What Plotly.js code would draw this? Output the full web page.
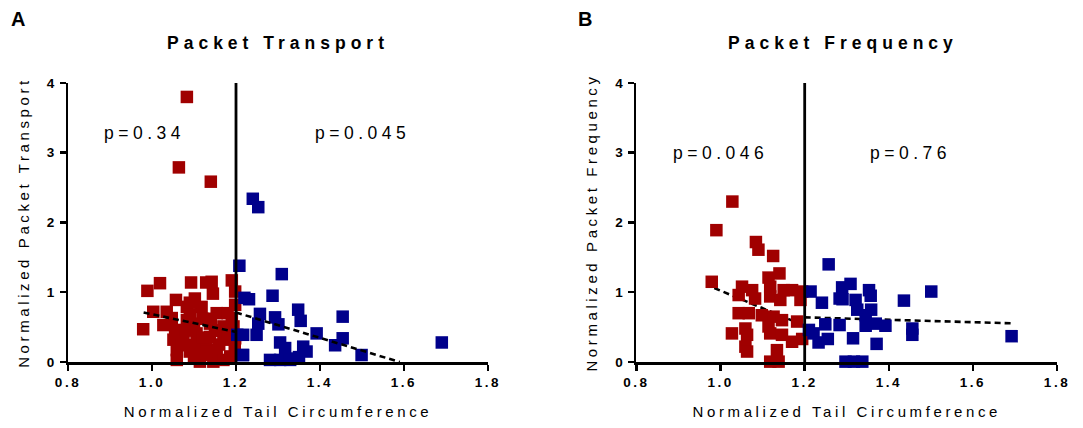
<!DOCTYPE html>
<html>
<head>
<meta charset="utf-8">
<script src="https://cdn.plot.ly/plotly-3.0.1.min.js"></script>
<style>
  body { margin: 0; background: #fff; }
  #chart { width: 1083px; height: 428px; }
  .xtick text, .x2tick text, .ytick text, .y2tick text { letter-spacing: 2.5px; }
  .xtitle, .x2title, .ytitle, .y2title { letter-spacing: 3.6px; }
</style>
</head>
<body>
<div id="chart"></div>
<script>
// ---------- data ----------
const threshold = 1.2;

// Panel A: Packet Transport
const transportLowX = [1.083, 1.064, 1.140, 0.989, 1.019, 0.979, 1.093, 1.129, 1.142, 1.190, 1.145, 1.102, 1.198, 1.198, 1.003, 1.035, 1.083, 1.118, 1.154, 1.190, 1.027, 1.055, 1.075, 1.106, 1.138, 1.170, 1.198, 1.051, 1.059, 1.090, 1.122, 1.154, 1.186, 1.059, 1.114, 1.146, 1.170, 1.083, 1.138, 1.170, 1.194, 1.047, 1.197, 1.083, 1.110, 1.090, 1.120, 1.160, 1.100, 1.130, 1.057, 1.180, 1.080, 1.100, 1.150, 1.120, 1.160, 1.070, 1.180, 1.090, 1.140, 1.130, 1.105];
const transportLowY = [3.80, 2.79, 2.585, 1.02, 1.13, 0.47, 1.14, 1.14, 1.15, 1.17, 0.98, 0.91, 1.01, 0.82, 0.72, 0.72, 0.79, 0.79, 0.70, 0.63, 0.53, 0.46, 0.36, 0.41, 0.36, 0.32, 0.34, 0.32, 0.17, 0.15, 0.10, 0.17, 0.08, 0.03, 0.005, 0.005, 0.03, 0.60, 0.55, 0.51, 0.51, 0.63, 0.17, 0.24, 0.24, 0.85, 0.62, 0.45, 0.05, 0.28, 0.89, 0.70, 0.45, 0.55, 0.45, 0.35, 0.25, 0.25, 0.40, 0.68, 0.62, 0.15, 0.12];
const transportHighX = [1.240, 1.253, 1.208, 1.309, 1.287, 1.231, 1.454, 1.257, 1.293, 1.348, 1.354, 1.253, 1.301, 1.249, 1.392, 1.454, 1.436, 1.499, 1.690, 1.216, 1.203, 1.305, 1.317, 1.360, 1.368, 1.281, 1.305, 1.329, 1.345, 1.350, 1.220, 1.217, 1.217];
const transportHighY = [2.34, 2.22, 1.38, 1.26, 0.95, 0.90, 0.65, 0.69, 0.64, 0.75, 0.59, 0.55, 0.54, 0.39, 0.41, 0.34, 0.24, 0.10, 0.28, 0.10, 0.39, 0.28, 0.20, 0.22, 0.15, 0.03, 0.03, 0.03, 0.05, 0.07, 0.92, 0.39, 0.10];

// Panel B: Packet Frequency
const freqLowX = [1.028, 0.990, 1.084, 1.090, 1.125, 1.140, 1.114, 0.979, 1.051, 1.075, 1.118, 1.150, 1.170, 1.194, 1.043, 1.082, 1.118, 1.142, 1.190, 1.043, 1.067, 1.098, 1.126, 1.146, 1.182, 1.027, 1.059, 1.063, 1.114, 1.118, 1.146, 1.170, 1.194, 1.059, 1.063, 1.134, 1.118, 1.138];
const freqLowY = [2.30, 1.89, 1.72, 1.61, 1.52, 1.27, 1.21, 1.15, 1.08, 1.03, 1.08, 1.03, 1.03, 1.01, 0.96, 0.91, 0.94, 0.89, 0.89, 0.70, 0.70, 0.67, 0.65, 0.60, 0.58, 0.41, 0.48, 0.39, 0.51, 0.41, 0.39, 0.29, 0.33, 0.22, 0.15, 0.17, 0.005, 0.005];
const freqHighX = [1.257, 1.309, 1.289, 1.353, 1.357, 1.501, 1.436, 1.214, 1.241, 1.283, 1.290, 1.321, 1.325, 1.358, 1.345, 1.249, 1.283, 1.345, 1.369, 1.392, 1.456, 1.456, 1.692, 1.210, 1.221, 1.233, 1.255, 1.315, 1.371, 1.297, 1.317, 1.337];
const freqHighY = [1.40, 1.12, 1.07, 1.03, 0.95, 1.01, 0.88, 1.01, 0.85, 0.91, 0.90, 0.89, 0.75, 0.75, 0.67, 0.54, 0.53, 0.52, 0.55, 0.52, 0.48, 0.39, 0.37, 0.46, 0.41, 0.28, 0.33, 0.34, 0.26, 0.005, 0.005, 0.005];

// Linear fits (dashed)
const fitTransportLowX = [0.98, 1.2],  fitTransportLowY = [0.71, 0.43];
const fitTransportHighX = [1.2, 1.59], fitTransportHighY = [0.71, 0.0];
const fitFreqLowX = [0.985, 1.2],      fitFreqLowY = [1.06, 0.52];
const fitFreqHighX = [1.2, 1.69],      fitFreqHighY = [0.64, 0.555];

// Ticks and labels
const xTickVals = [0.8, 1.0, 1.2, 1.4, 1.6, 1.8];
const xTickText = ['0.8', '1.0', '1.2', '1.4', '1.6', '1.8'];
const yTickVals = [0, 1, 2, 3, 4];
const yTickText = ['0', '1', '2', '3', '4'];
const panelTitles = ['Packet Transport', 'Packet Frequency'];
const panelLetters = ['A', 'B'];
const yTitles = ['Normalized Packet Transport', 'Normalized Packet Frequency'];
const xTitle = 'Normalized Tail Circumference';
const pTextA = ['p=0.34', 'p=0.045'];
const pTextB = ['p=0.046', 'p=0.76'];
const pPosA = {x: [0.983, 1.502], y: [3.28, 3.28]};
const pPosB = {x: [0.999, 1.452], y: [3.0, 3.0]};

// ---------- styling ----------
const RED = '#A00000';
const BLUE = '#00008B';
const FONT = 'Liberation Sans, Arial, Helvetica, sans-serif';

function pts(x, y, color, xa, ya) {
  return {x: x, y: y, xaxis: xa, yaxis: ya, type: 'scatter', mode: 'markers',
    cliponaxis: false, hoverinfo: 'skip',
    marker: {symbol: 'square', size: 12.5, color: color, line: {width: 0}}};
}
function fit(x, y, xa, ya) {
  return {x: x, y: y, xaxis: xa, yaxis: ya, type: 'scatter', mode: 'lines',
    hoverinfo: 'skip', line: {color: '#000', width: 2.6, dash: '6px,4px'}};
}

const traces = [
  pts(transportLowX, transportLowY, RED, 'x', 'y'),
  pts(transportHighX, transportHighY, BLUE, 'x', 'y'),
  fit(fitTransportLowX, fitTransportLowY, 'x', 'y'),
  fit(fitTransportHighX, fitTransportHighY, 'x', 'y'),
  fit(fitFreqLowX, fitFreqLowY, 'x2', 'y2'),
  fit(fitFreqHighX, fitFreqHighY, 'x2', 'y2'),
  pts(freqLowX, freqLowY, RED, 'x2', 'y2'),
  pts(freqHighX, freqHighY, BLUE, 'x2', 'y2')
];

function xAxis(domain, anchor) {
  return {domain: domain, anchor: anchor, range: [0.8, 1.8], tickvals: xTickVals, ticktext: xTickText,
    ticks: 'outside', ticklen: 6, tickwidth: 2.5, tickcolor: '#000', showline: true, linewidth: 2.5, linecolor: '#000',
    showgrid: false, zeroline: false, tickfont: {family: FONT, size: 13.5, color: '#000', weight: 'bold'},
    title: {text: xTitle, font: {family: FONT, size: 15, color: '#000'}, standoff: 18}};
}
function yAxis(anchor, title) {
  return {domain: [0.1542, 0.8061], anchor: anchor, range: [0, 4], tickvals: yTickVals, ticktext: yTickText,
    ticks: 'outside', ticklen: 6, tickwidth: 2.5, tickcolor: '#000', showline: true, linewidth: 2.5, linecolor: '#000',
    showgrid: false, zeroline: false, tickfont: {family: FONT, size: 13.5, color: '#000', weight: 'bold'},
    title: {text: title, font: {family: FONT, size: 15, color: '#000'}, standoff: 14}};
}

const annotations = [];
function sp(t, s) { return '<span style="letter-spacing:' + s + 'px">' + t + '</span>'; }
annotations.push({xref: 'paper', yref: 'paper', x: 0.2567, y: 0.8995, xanchor: 'center', yanchor: 'middle',
  text: sp(panelTitles[0], 5), showarrow: false, font: {family: FONT, size: 17.5, color: '#000', weight: 'bold'}});
annotations.push({xref: 'paper', yref: 'paper', x: 0.7780, y: 0.8995, xanchor: 'center', yanchor: 'middle',
  text: sp(panelTitles[1], 5), showarrow: false, font: {family: FONT, size: 17.5, color: '#000', weight: 'bold'}});
annotations.push({xref: 'paper', yref: 'paper', x: 0.0085, y: 0.955, xanchor: 'left', yanchor: 'middle',
  text: panelLetters[0], showarrow: false, font: {family: FONT, size: 20, color: '#000', weight: 'bold'}});
annotations.push({xref: 'paper', yref: 'paper', x: 0.532, y: 0.955, xanchor: 'left', yanchor: 'middle',
  text: panelLetters[1], showarrow: false, font: {family: FONT, size: 20, color: '#000', weight: 'bold'}});
for (let i = 0; i < 2; i++) {
  annotations.push({xref: 'x', yref: 'y', x: pPosA.x[i], y: pPosA.y[i], xanchor: 'center', yanchor: 'middle',
    text: sp(pTextA[i], 4.5), showarrow: false, font: {family: FONT, size: 17.5, color: '#000'}});
  annotations.push({xref: 'x2', yref: 'y2', x: pPosB.x[i], y: pPosB.y[i], xanchor: 'center', yanchor: 'middle',
    text: sp(pTextB[i], 4.5), showarrow: false, font: {family: FONT, size: 17.5, color: '#000'}});
}

const shapes = [
  {type: 'line', xref: 'x', yref: 'y', x0: threshold, x1: threshold, y0: 0, y1: 4, line: {color: '#000', width: 2.8}},
  {type: 'line', xref: 'x2', yref: 'y2', x0: threshold, x1: threshold, y0: 0, y1: 4, line: {color: '#000', width: 2.8}}
];

const layout = {
  width: 1083, height: 428, margin: {l: 0, r: 0, t: 0, b: 0},
  paper_bgcolor: '#fff', plot_bgcolor: '#fff', showlegend: false,
  font: {family: FONT, color: '#000'},
  xaxis: xAxis([0.0628, 0.4506], 'y'),
  yaxis: yAxis('x', yTitles[0]),
  xaxis2: xAxis([0.5877, 0.976], 'y2'),
  yaxis2: yAxis('x2', yTitles[1]),
  annotations: annotations, shapes: shapes
};

Plotly.newPlot('chart', traces, layout, {displayModeBar: false, staticPlot: true});
</script>
</body>
</html>
